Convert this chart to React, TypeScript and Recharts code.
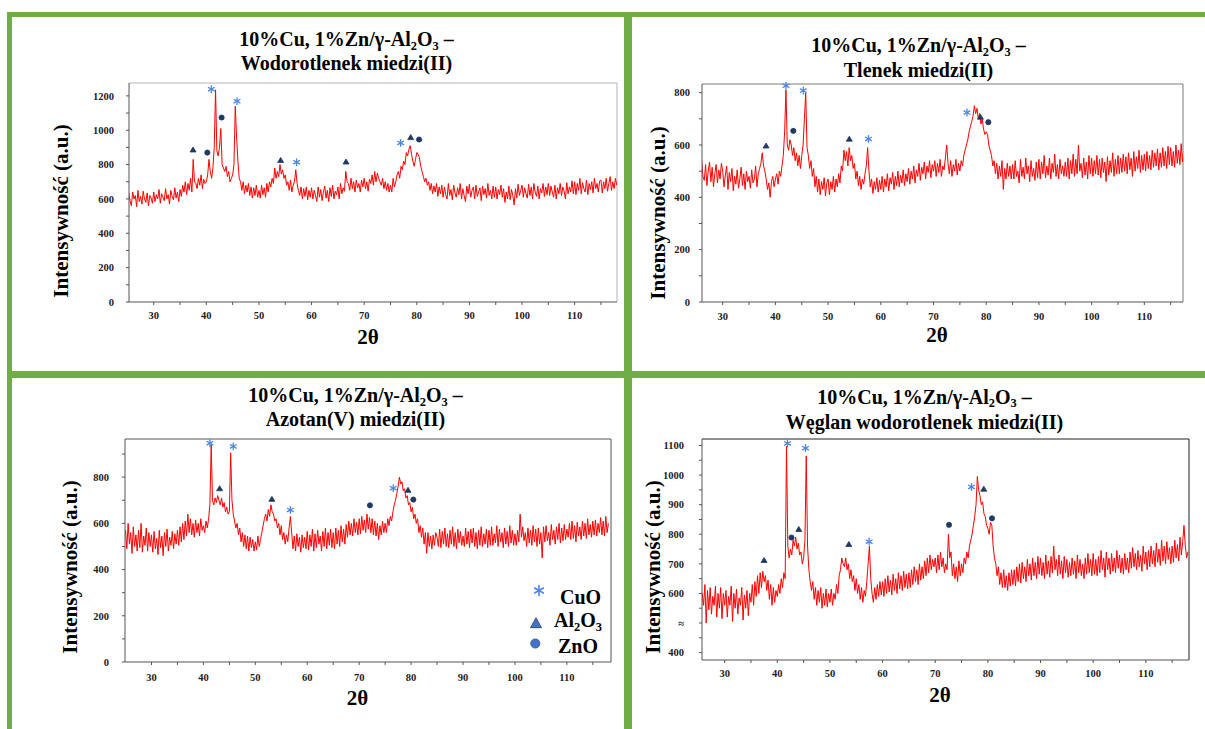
import React from "react";
import { LineChart, Line, XAxis, YAxis, ReferenceDot, ReferenceLine } from "recharts";

// scan grid: 25.00° .. 118.00° every 0.25°
const SCAN_START = 25;
const SCAN_STEP = 0.25;

const woBase = [
  570, 635, 590, 560, 640, 600, 620, 555, 650, 585, 615, 570, 645, 600, 580, 635, 560, 620, 605, 575,
  640, 585, 625, 600, 655, 575, 630, 610, 590, 660, 600, 625, 570, 650, 615, 595, 665, 605, 640, 585,
  655, 615, 680, 640, 700, 625, 690, 650, 720, 640, 830, 700, 690, 660, 720, 680, 740, 660, 715, 690,
  700, 740, 830, 760, 720, 780, 900, 1235, 880, 850, 900, 1010, 800, 780, 760, 790, 730, 760, 700, 720,
  740, 800, 1140, 960, 820, 720, 700, 650, 700, 630, 680, 640, 690, 620, 670, 605, 665, 620, 680, 610,
  650, 605, 680, 625, 665, 610, 690, 640, 700, 670, 720, 690, 780, 720, 760, 730, 800, 745, 770, 720,
  740, 680, 700, 650, 710, 640, 680, 700, 770, 690, 650, 620, 670, 600, 660, 615, 670, 595, 650, 610,
  665, 600, 650, 620, 585, 670, 610, 655, 590, 640, 675, 605, 650, 585, 665, 615, 680, 600, 645, 625,
  670, 600, 690, 630, 665, 645, 760, 700, 690, 650, 720, 660, 700, 640, 710, 665, 690, 640, 710, 670,
  720, 660, 700, 645, 715, 690, 740, 680, 760, 700, 750, 720, 700, 680, 720, 660, 700, 650, 690, 640,
  680, 640, 720, 670, 700, 740, 760, 720, 790, 770, 820, 800, 870, 850, 890, 910, 860, 820, 790, 830,
  870, 860, 840, 790, 760, 730, 700, 720, 680, 700, 650, 690, 630, 675, 640, 690, 615, 670, 630, 680,
  610, 670, 625, 600, 690, 620, 655, 595, 680, 635, 610, 665, 625, 690, 600, 660, 620, 585, 675, 630,
  685, 610, 650, 670, 600, 680, 615, 640, 665, 590, 675, 625, 660, 605, 690, 620, 650, 600, 675, 610,
  670, 600, 655, 625, 680, 610, 660, 580, 640, 600, 675, 595, 655, 620, 565, 660, 605, 685, 620, 650,
  680, 610, 665, 630, 605, 685, 620, 670, 600, 690, 640, 615, 675, 600, 660, 635, 690, 615, 670, 625,
  690, 620, 675, 640, 610, 680, 600, 665, 630, 690, 620, 670, 645, 600, 695, 630, 670, 640, 705, 630,
  700, 625, 690, 650, 720, 630, 695, 660, 640, 710, 625, 690, 655, 700, 635, 720, 660, 690, 640, 705,
  710, 635, 700, 660, 720, 645, 690, 730, 650, 700, 660, 720, 680,
];

const tlBase = [
  530, 470, 510, 450, 540, 480, 465, 525, 445, 500, 535, 460, 515, 440, 490, 525, 455, 505, 470, 530,
  500, 440, 485, 520, 430, 495, 460, 510, 425, 480, 450, 505, 435, 470, 515, 445, 490, 430, 500, 460,
  480, 435, 505, 455, 470, 520, 440, 490, 510, 530, 570, 520, 500, 470, 430, 455, 400, 460, 480, 440,
  470, 490, 450, 500, 480, 520, 560, 650, 810, 600, 580, 620, 600, 560, 590, 540, 570, 520, 560, 510,
  560, 600, 700, 800, 590, 560, 510, 540, 480, 510, 440, 480, 420, 470, 410, 460, 430, 475, 405, 455,
  470, 410, 460, 430, 480, 420, 470, 440, 490, 455, 520, 500, 580, 540, 575, 520, 590, 540, 560, 510,
  530, 470, 500, 445, 480, 430, 470, 450, 490, 520, 590, 500, 440, 470, 415, 460, 430, 475, 420, 465,
  430, 480, 420, 470, 440, 490, 425, 475, 450, 495, 430, 480, 445, 500, 440, 485, 455, 505, 445, 490,
  460, 510, 450, 500, 470, 520, 455, 505, 480, 530, 465, 515, 490, 535, 470, 520, 495, 540, 475, 525,
  500, 540, 480, 530, 495, 545, 480, 520, 505, 550, 600, 530, 490, 540, 480, 525, 500, 545, 485, 530,
  500, 540, 520, 560, 580, 600, 620, 650, 670, 690, 710, 750, 720, 740, 700, 720, 680, 700, 660, 640,
  650, 640, 600, 580, 560, 520, 540, 490, 530, 470, 520, 480, 540, 430, 510, 470, 530, 480, 520, 470,
  525, 470, 540, 480, 500, 455, 545, 480, 515, 470, 550, 490, 520, 460, 540, 480, 510, 465, 535, 475,
  545, 470, 535, 490, 560, 475, 520, 485, 550, 470, 530, 495, 565, 480, 525, 470, 545, 490, 520, 480,
  535, 480, 550, 470, 540, 490, 565, 480, 545, 490, 600, 500, 530, 475, 550, 485, 535, 470, 560, 490,
  550, 480, 540, 490, 560, 485, 545, 475, 550, 495, 535, 460, 555, 485, 540, 495, 570, 480, 545, 490,
  560, 490, 550, 495, 565, 500, 555, 490, 570, 505, 550, 480, 575, 500, 555, 510, 580, 495, 560, 505,
  565, 500, 575, 510, 560, 505, 580, 515, 570, 520, 585, 505, 570, 515, 590, 520, 575, 510, 595, 525,
  590, 520, 575, 515, 600, 530, 580, 525, 605, 535, 585, 540, 570,
];

const azBase = [
  570, 490, 600, 510, 560, 470, 585, 500, 550, 480, 570, 495, 600, 475, 545, 505, 580, 480, 560, 500,
  550, 475, 565, 490, 535, 465, 570, 495, 545, 460, 560, 500, 575, 480, 540, 505, 565, 490, 555, 510,
  570, 505, 585, 520, 600, 530, 610, 545, 640, 560, 620, 550, 600, 540, 615, 560, 600, 545, 620, 570,
  590, 560, 610, 580, 620, 680, 940, 700, 680, 710, 690, 720, 700, 680, 710, 670, 690, 650, 670, 640,
  650, 905, 700, 640, 610, 580, 600, 550, 580, 520, 560, 500, 550, 490, 545, 480, 540, 495, 530, 480,
  520, 485, 545, 500, 530, 560, 590, 620, 640, 610, 660, 630, 680, 650, 640, 610, 620, 580, 600, 550,
  590, 530, 560, 510, 550, 520, 580, 630, 560, 490, 545, 480, 555, 500, 540, 475, 550, 495, 540, 490,
  565, 485, 550, 500, 575, 480, 555, 495, 570, 510, 545, 480, 565, 500, 580, 490, 560, 505, 575, 495,
  560, 490, 580, 510, 570, 500, 590, 520, 575, 510, 595, 540, 610, 550, 600, 545, 620, 560, 605, 550,
  620, 555, 630, 570, 615, 560, 640, 575, 625, 560, 620, 550, 610, 545, 600, 530, 590, 550, 610, 560,
  600, 560, 620, 590, 630, 610, 650, 680, 700, 730, 760, 800, 770, 780, 740, 750, 710, 720, 680, 690,
  650, 670, 620, 640, 600, 620, 560, 590, 540, 580, 510, 560, 470, 560, 500, 545, 490, 550, 505, 560,
  540, 500, 575, 495, 565, 510, 580, 500, 555, 495, 570, 510, 585, 500, 560, 490, 575, 515, 565, 505,
  545, 500, 580, 510, 565, 495, 575, 515, 580, 500, 560, 490, 570, 505, 585, 500, 555, 510, 575, 495,
  570, 505, 585, 505, 555, 515, 590, 500, 575, 520, 560, 495, 580, 510, 565, 500, 590, 515, 570, 505,
  555, 505, 570, 520, 640, 540, 585, 525, 560, 500, 580, 515, 570, 505, 590, 520, 575, 500, 580, 510,
  560, 450, 585, 520, 590, 525, 560, 505, 595, 530, 570, 510, 585, 530, 600, 515, 580, 525, 595, 530,
  575, 540, 600, 530, 610, 535, 590, 520, 605, 545, 585, 530, 610, 545, 600, 535, 620, 550, 595, 540,
  610, 550, 615, 545, 600, 560, 625, 550, 610, 545, 630, 560, 600,
];

const weBase = [
  540, 620, 520, 600, 560, 630, 500, 610, 545, 620, 530, 590, 560, 625, 520, 600, 550, 620, 515, 600,
  560, 610, 520, 590, 560, 625, 505, 600, 550, 615, 530, 585, 560, 620, 510, 595, 550, 610, 525, 600,
  570, 630, 560, 640, 590, 660, 600, 670, 620, 675, 640, 660, 610, 645, 580, 630, 560, 620, 570, 610,
  590, 630, 600, 650, 620, 670, 650, 1098, 760, 720, 750, 730, 780, 760, 790, 750, 770, 730, 740, 700,
  720, 780, 1065, 760, 680, 640, 610, 640, 580, 620, 560, 610, 570, 620, 550, 600, 560, 615, 555, 600,
  570, 615, 560, 600, 580, 630, 600, 660, 680, 720, 700, 690, 720, 680, 700, 650, 680, 640, 660, 610,
  650, 600, 630, 580, 620, 570, 610, 590, 640, 700, 760, 650, 600, 570, 620, 580, 630, 590, 640, 595,
  640, 590, 650, 600, 660, 605, 645, 595, 665, 610, 650, 600, 670, 615, 660, 610, 675, 620, 665, 615,
  670, 620, 680, 630, 690, 640, 680, 630, 700, 645, 690, 650, 710, 660, 720, 670, 730, 680, 715, 690,
  720, 670, 730, 680, 740, 690, 720, 670, 700, 680, 800, 720, 740, 660, 700, 650, 690, 640, 710, 660,
  700, 670, 720, 700, 740, 720, 760, 780, 800, 830, 860, 900, 995, 950, 930, 900, 910, 870, 860, 830,
  820, 800, 840, 830, 760, 720, 700, 660, 690, 630, 670, 620, 680, 620, 660, 610, 670, 625, 680, 630,
  680, 625, 690, 640, 700, 635, 705, 650, 690, 640, 715, 660, 700, 645, 720, 660, 705, 650, 725, 665,
  720, 660, 705, 650, 730, 665, 710, 655, 725, 670, 760, 680, 715, 660, 730, 665, 710, 650, 725, 670,
  715, 655, 705, 660, 720, 665, 710, 650, 730, 670, 715, 660, 700, 650, 720, 665, 735, 670, 715, 660,
  735, 665, 715, 660, 725, 670, 745, 680, 720, 655, 740, 680, 720, 665, 735, 675, 720, 670, 745, 685,
  730, 670, 720, 665, 735, 680, 720, 670, 740, 685, 755, 690, 735, 680, 745, 690, 730, 675, 760, 700,
  740, 680, 745, 690, 760, 700, 745, 690, 770, 705, 750, 695, 780, 710, 760, 700, 775, 715, 755, 700,
  760, 705, 780, 720, 765, 710, 790, 730, 775, 830, 760, 720, 740,
];

// phase markers [2θ, intensity]
const woCuO = [[40.95, 1239], [45.83, 1169], [57.16, 814], [76.93, 926]];
const woAl2O3 = [[37.47, 888], [54.12, 827], [66.55, 818], [78.84, 960]];
const woZnO = [[40.19, 870], [42.9, 1074], [80.43, 946]];
const tlCuO = [[42.01, 826], [45.29, 808], [57.66, 623], [76.35, 724]];
const tlAl2O3 = [[38.22, 598], [54.02, 624], [78.9, 708]];
const tlZnO = [[43.4, 654], [80.4, 687]];
const azCuO = [[41.26, 947], [45.75, 933], [56.75, 658], [76.56, 752]];
const azAl2O3 = [[43.13, 752], [53.19, 706], [79.41, 745]];
const azZnO = [[72.07, 678], [80.43, 703]];
const weCuO = [[41.94, 1107], [45.36, 1091], [57.45, 775], [76.88, 960]];
const weAl2O3 = [[37.49, 713], [44.08, 818], [53.59, 767], [79.22, 954]];
const weZnO = [[42.7, 789], [72.62, 832], [80.78, 854]];

const xTicks = [30, 35, 40, 45, 50, 55, 60, 65, 70, 75, 80, 85, 90, 95, 100, 105, 110, 115];
const woYTicks = [0, 100, 200, 300, 400, 500, 600, 700, 800, 900, 1000, 1100, 1200];
const tlYTicks = [0, 100, 200, 300, 400, 500, 600, 700, 800];
const azYTicks = [0, 100, 200, 300, 400, 500, 600, 700, 800, 900];
const weYTicks = [400, 450, 500, 550, 600, 650, 700, 750, 800, 850, 900, 950, 1000, 1050, 1100];

const titleLine2 = ["Wodorotlenek miedzi(II)", "Tlenek miedzi(II)", "Azotan(V) miedzi(II)", "Węglan wodorotlenek miedzi(II)"];

const SERIF = '"Liberation Serif", "DejaVu Serif", "Noto Serif", serif';
const GREEN = "#70ad47";
const CUO_BLUE = "#4a86e8";
const NAVY = "#1f3864";

function toSeries(base: number[]) {
  return base.map((v, i) => ({ t: SCAN_START + i * SCAN_STEP, v }));
}

function Star({ cx, cy, r = 3.4, w = 1.3 }: any) {
  return (
    <g stroke={CUO_BLUE} strokeWidth={w} strokeLinecap="round">
      {[90, 30, -30].map((a) => {
        const rad = (a * Math.PI) / 180;
        const dx = r * Math.cos(rad);
        const dy = r * Math.sin(rad);
        return <line key={a} x1={cx - dx} y1={cy - dy} x2={cx + dx} y2={cy + dy} />;
      })}
    </g>
  );
}

function Tri({ cx, cy, hw = 3, h = 5, fill = NAVY, stroke = NAVY }: any) {
  return <polygon points={`${cx},${cy - h / 2} ${cx - hw},${cy + h / 2} ${cx + hw},${cy + h / 2}`} fill={fill} stroke={stroke} strokeWidth={0.8} />;
}

function Circ({ cx, cy, r = 2.6, fill = NAVY, stroke = NAVY }: any) {
  return <circle cx={cx} cy={cy} r={r} fill={fill} stroke={stroke} strokeWidth={0.8} />;
}

const panels = [
  {
    data: toSeries(woBase), cuo: woCuO, al: woAl2O3, zno: woZnO,
    box: { l: 129, t: 83, w: 488, h: 219 }, xDomain: [25.3, 118.05], yDomain: [0, 1275],
    yTicks: woYTicks, yFmt: (v: number) => (v % 200 === 0 ? String(v) : ""),
    xTickMargin: 7, yTickMargin: 12, frame: "#b4b4b4",
    title: { cx: 346.5, y1: 39, y2: 63 }, yLabel: { x: 60.7, y: 210.8 }, xLabel: { x: 368, y: 336.7 },
  },
  {
    data: toSeries(tlBase), cuo: tlCuO, al: tlAl2O3, zno: tlZnO,
    box: { l: 702, t: 84, w: 481, h: 218 }, xDomain: [26.07, 117.34], yDomain: [0, 833],
    yTicks: tlYTicks, yFmt: (v: number) => (v % 200 === 0 ? String(v) : ""),
    xTickMargin: 8, yTickMargin: 9, frame: "#7a7a7a",
    title: { cx: 918.5, y1: 45, y2: 70 }, yLabel: { x: 658.3, y: 212.5 }, xLabel: { x: 937, y: 335 },
  },
  {
    data: toSeries(azBase), cuo: azCuO, al: azAl2O3, zno: azZnO,
    box: { l: 125, t: 439, w: 486, h: 223 }, xDomain: [24.9, 118.5], yDomain: [0, 965],
    yTicks: azYTicks, yFmt: (v: number) => (v % 200 === 0 ? String(v) : ""),
    xTickMargin: 9, yTickMargin: 13, frame: "#555",
    title: { cx: 355.5, y1: 395, y2: 419 }, yLabel: { x: 70, y: 567.3 }, xLabel: { x: 357.4, y: 698.3 },
  },
  {
    data: toSeries(weBase), cuo: weCuO, al: weAl2O3, zno: weZnO,
    box: { l: 702, t: 439, w: 487, h: 221 }, xDomain: [25.7, 118.2], yDomain: [375, 1122],
    yTicks: weYTicks, yFmt: (v: number) => (v === 500 ? "≈" : v % 100 === 0 ? String(v) : ""),
    xTickMargin: 7, yTickMargin: 15, frame: "#222",
    title: { cx: 924.5, y1: 396.7, y2: 421.7 }, yLabel: { x: 653.3, y: 566.7 }, xLabel: { x: 940, y: 695 },
  },
];

const tickStyle = { fontSize: 10.5, fontFamily: SERIF, fontWeight: 700, fill: "#222" };
const sub: React.CSSProperties = { fontSize: "0.62em", position: "relative", top: "0.3em" };

function Title({ cx, y1, y2, line2 }: any) {
  const base: React.CSSProperties = {
    position: "absolute", left: cx - 250, width: 500, height: 24, lineHeight: "24px",
    textAlign: "center", fontFamily: SERIF, fontWeight: 700, fontSize: 20, color: "#000", whiteSpace: "nowrap",
  };
  return (
    <>
      <div style={{ ...base, top: y1 - 12 }}>
        10%Cu, 1%Zn/γ-Al<span style={sub}>2</span>O<span style={sub}>3</span> –
      </div>
      <div style={{ ...base, top: y2 - 12 }}>{line2}</div>
    </>
  );
}

function Panel({ p, idx }: any) {
  const { box } = p;
  return (
    <>
      <Title {...p.title} line2={titleLine2[idx]} />
      <div style={{
        position: "absolute", left: p.yLabel.x - 120, top: p.yLabel.y - 14, width: 240, height: 28,
        lineHeight: "28px", textAlign: "center", transform: "rotate(-90deg)", fontFamily: SERIF,
        fontWeight: 700, fontSize: 21, whiteSpace: "nowrap",
      }}>
        Intensywność (a.u.)
      </div>
      <div style={{
        position: "absolute", left: p.xLabel.x - 30, top: p.xLabel.y - 13, width: 60, height: 26,
        lineHeight: "26px", textAlign: "center", fontFamily: SERIF, fontWeight: 700, fontSize: 21,
      }}>
        2θ
      </div>
      <div style={{ position: "absolute", left: box.l - 60, top: box.t - 12 }}>
        <LineChart width={box.w + 72} height={box.h + 42} data={p.data} margin={{ top: 12, right: 12, left: 0, bottom: 0 }}>
          <XAxis
            type="number" dataKey="t" domain={p.xDomain} allowDataOverflow ticks={xTicks} interval={0}
            tickFormatter={(v: number) => (v % 10 === 0 ? String(v) : "")}
            height={30} tickSize={3} tickMargin={p.xTickMargin} stroke="#555" tick={tickStyle}
          />
          <YAxis
            type="number" domain={p.yDomain} allowDataOverflow ticks={p.yTicks} interval={0}
            tickFormatter={p.yFmt} width={60} tickSize={3} tickMargin={p.yTickMargin} stroke="#555" tick={tickStyle}
          />
          <ReferenceLine y={p.yDomain[1]} stroke={p.frame} strokeWidth={1} />
          <ReferenceLine x={p.xDomain[1]} stroke={p.frame} strokeWidth={1} />
          <Line type="linear" dataKey="v" stroke="#ff0000" strokeWidth={1} dot={false} isAnimationActive={false} />
          {p.cuo.map(([t, v]: number[], i: number) => (
            <ReferenceDot key={"c" + i} x={t} y={v} ifOverflow="visible" shape={(s: any) => <Star cx={s.cx} cy={s.cy} />} />
          ))}
          {p.al.map(([t, v]: number[], i: number) => (
            <ReferenceDot key={"a" + i} x={t} y={v} ifOverflow="visible" shape={(s: any) => <Tri cx={s.cx} cy={s.cy} />} />
          ))}
          {p.zno.map(([t, v]: number[], i: number) => (
            <ReferenceDot key={"z" + i} x={t} y={v} ifOverflow="visible" shape={(s: any) => <Circ cx={s.cx} cy={s.cy} />} />
          ))}
        </LineChart>
      </div>
    </>
  );
}

function PhaseLegend() {
  const txt: React.CSSProperties = {
    position: "absolute", fontFamily: SERIF, fontWeight: 700, fontSize: 20, height: 24, lineHeight: "24px", whiteSpace: "nowrap",
  };
  return (
    <>
      <svg style={{ position: "absolute", left: 525, top: 580, overflow: "visible" }} width={25} height={75}>
        <Star cx={14} cy={10.5} r={5} w={1.6} />
        <Tri cx={11} cy={42.7} hw={5.5} h={10} fill="#4472c4" stroke={NAVY} />
        <Circ cx={10.3} cy={63.5} r={4.6} fill="#4472c4" stroke="#2f5597" />
      </svg>
      <div style={{ ...txt, left: 560, top: 596.7 - 12 }}>CuO</div>
      <div style={{ ...txt, left: 554, top: 620 - 12 }}>
        Al<span style={sub}>2</span>O<span style={sub}>3</span>
      </div>
      <div style={{ ...txt, left: 558, top: 646 - 12 }}>ZnO</div>
    </>
  );
}

export default function App() {
  const bar = (l: number, t: number, w: number, h: number) => (
    <div style={{ position: "absolute", left: l, top: t, width: w, height: h, background: GREEN }} />
  );
  return (
    <div style={{ position: "absolute", left: 0, top: 0, width: 1205, height: 729, background: "#fff", overflow: "hidden" }}>
      {bar(7, 12, 1198, 5)}
      {bar(7, 12, 5, 717)}
      {bar(624, 12, 8, 717)}
      {bar(7, 371, 1198, 7)}
      {panels.map((p, i) => (
        <Panel key={i} p={p} idx={i} />
      ))}
      <PhaseLegend />
    </div>
  );
}
